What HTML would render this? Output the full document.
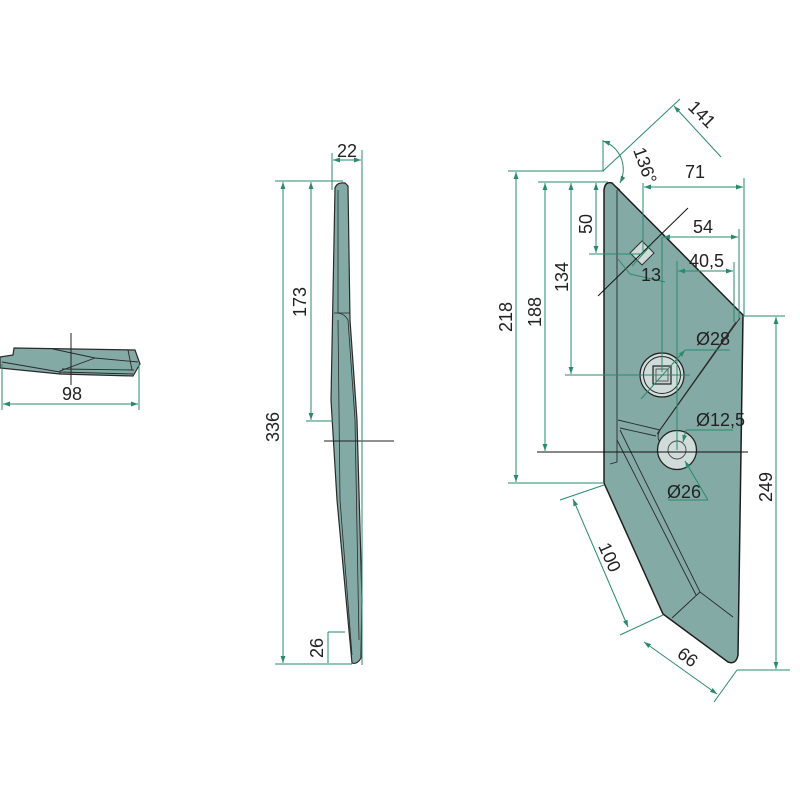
<!DOCTYPE html>
<html><head><meta charset="utf-8"><style>
html,body{margin:0;padding:0;background:#fff;}
svg{display:block;}
text{font-family:"Liberation Sans",sans-serif;font-size:18px;fill:#222;}
</style></head><body>
<svg width="800" height="800" viewBox="0 0 800 800" xmlns="http://www.w3.org/2000/svg">
<defs>
<marker id="a" viewBox="0 0 10 10" refX="10" refY="5" markerWidth="7" markerHeight="7" orient="auto-start-reverse"><path d="M0,1.5 L10,5 L0,8.5 z" fill="#2a8a6c"/></marker>
</defs>
<!-- left view -->
<g stroke="#2a2a2a" stroke-width="1.2" fill="#84aaa6">
<path d="M0,357 L13,355 L14,348 L135,350 L140,364 L133,376 L60,374 L0,368 Z"/>
</g>
<g stroke="#2a2a2a" stroke-width="0.9" fill="none">
<path d="M2,362 L60,372 L133,374"/><path d="M53,349 L95,358 L138,362"/><path d="M60,374 L60,371 L95,358"/><path d="M128,350 L132,370"/><path d="M62,369 L134,370"/>
</g>
<line x1="71" y1="333" x2="71" y2="385" stroke="#222" stroke-width="1"/>
<g stroke="#2a8a6c" stroke-width="1" fill="none">
<line x1="2" y1="364" x2="2" y2="410"/><line x1="139" y1="364" x2="139" y2="410"/>
<line x1="3" y1="404" x2="138" y2="404" marker-start="url(#a)" marker-end="url(#a)"/>
</g>
<text x="62" y="400">98</text>

<!-- side view -->
<path d="M335,188 Q337,182 345,183 L348,186 L350,320 L357,420 L362,600 L361,658 Q357,665 352,663 L348,620 L337,500 L331,400 Z" fill="#84aaa6" stroke="#2a2a2a" stroke-width="1.2"/>
<g stroke="#2a2a2a" stroke-width="0.8" fill="none">
<path d="M338,190 L338,313 Q345,314 348,320 L355,420 L359,640"/><path d="M334,313 L350,313"/><path d="M338,320 L340,500 L352,655"/>
</g>
<line x1="324" y1="441" x2="394" y2="441" stroke="#222" stroke-width="1"/>
<g stroke="#2a8a6c" stroke-width="1" fill="none">
<line x1="332" y1="153" x2="332" y2="190"/><line x1="362" y1="150" x2="362" y2="665"/>
<line x1="333" y1="160" x2="361" y2="160" marker-start="url(#a)" marker-end="url(#a)"/>
<line x1="275" y1="181" x2="343" y2="181"/><line x1="275" y1="664" x2="352" y2="664"/>
<line x1="283" y1="182" x2="283" y2="663" marker-start="url(#a)" marker-end="url(#a)"/>
<line x1="306" y1="421" x2="333" y2="421"/>
<line x1="311" y1="182" x2="311" y2="420" marker-start="url(#a)" marker-end="url(#a)"/>
<line x1="328" y1="632" x2="345" y2="632"/>
<line x1="328" y1="632" x2="328" y2="663"/>
</g>
<text x="337" y="157">22</text>
<text transform="translate(279,442) rotate(-90)">336</text>
<text transform="translate(306,317) rotate(-90)">173</text>
<text transform="translate(323,658) rotate(-90)">26</text>

<!-- main blade -->
<path d="M604,190 Q605,181 612,183 L743,315 L738,655 Q736,665 728,662 L663,614 L604,483 Z" fill="#84aaa6" stroke="#1e1e1e" stroke-width="1.5"/>
<g stroke="#2a2a2a" stroke-width="0.9" fill="none">
<path d="M617,190 L617,462 L610,464"/><path d="M613,184 L620,190"/>
<path d="M740,318 L660,430 Q655,440 663,444"/><path d="M736,322 L657,434"/>
<path d="M618,420 L660,430"/><path d="M620,428 L656,436"/>
<path d="M620,430 L700,592 L733,617"/><path d="M617,440 L696,595"/>
<path d="M700,592 L672,618"/>
</g>
<!-- holes -->
<path d="M642,241 L654,253 L642,265 L630,253 Z" fill="#cfdcd9" stroke="#333" stroke-width="1"/>
<circle cx="662" cy="375" r="22" fill="#cfdcd9" stroke="#222" stroke-width="1.2"/>
<circle cx="662" cy="375" r="18.5" fill="none" stroke="#222" stroke-width="1"/>
<rect x="653" y="366" width="18" height="18" fill="#c5d3d0" stroke="#222" stroke-width="1.2"/>
<rect x="656" y="369" width="12" height="12" fill="none" stroke="#444" stroke-width="0.8"/>
<circle cx="677" cy="450" r="19.5" fill="#cfdcd9" stroke="#222" stroke-width="1.3"/>
<circle cx="677" cy="450" r="9" fill="none" stroke="#444" stroke-width="0.9"/>
<!-- black center lines -->
<g stroke="#111" stroke-width="1">
<line x1="537" y1="452" x2="748" y2="452"/>
<line x1="688" y1="208" x2="598" y2="296"/>
</g>
<!-- green dims main -->
<g stroke="#2a8a6c" stroke-width="1" fill="none">
<line x1="508" y1="171" x2="604" y2="171"/>
<line x1="508" y1="483" x2="604" y2="483"/>
<line x1="516" y1="172" x2="516" y2="482" marker-start="url(#a)" marker-end="url(#a)"/>
<line x1="538" y1="182" x2="608" y2="182"/>
<line x1="545" y1="183" x2="545" y2="451" marker-start="url(#a)" marker-end="url(#a)"/>
<line x1="565" y1="375" x2="690" y2="375"/>
<line x1="571" y1="183" x2="571" y2="374" marker-start="url(#a)" marker-end="url(#a)"/>
<line x1="589" y1="254" x2="642" y2="254"/>
<line x1="596" y1="183" x2="596" y2="253" marker-start="url(#a)" marker-end="url(#a)"/>
<line x1="603" y1="140" x2="603" y2="171"/>
<line x1="603" y1="171" x2="680" y2="99"/>
<line x1="674" y1="106" x2="721" y2="157" marker-start="url(#a)"/>
<path d="M603,141 A30,30 0 0 1 620,183" marker-start="url(#a)" marker-end="url(#a)"/>
<line x1="643" y1="183" x2="643" y2="254"/>
<line x1="744" y1="178" x2="744" y2="316"/>
<line x1="644" y1="187" x2="743" y2="187" marker-start="url(#a)" marker-end="url(#a)"/>
<line x1="662" y1="237" x2="662" y2="372"/>
<line x1="739" y1="229" x2="739" y2="318"/>
<line x1="663" y1="237" x2="738" y2="237" marker-start="url(#a)" marker-end="url(#a)"/>
<line x1="677" y1="261" x2="677" y2="450"/>
<line x1="734" y1="262" x2="734" y2="322"/>
<line x1="678" y1="271" x2="733" y2="271" marker-start="url(#a)" marker-end="url(#a)"/>
<line x1="618" y1="259" x2="630" y2="274"/><line x1="630" y1="274" x2="665" y2="282"/>
<line x1="632" y1="266" x2="652" y2="244"/>
<line x1="641" y1="399" x2="685" y2="350" marker-end="url(#a)"/><line x1="685" y1="350" x2="730" y2="350"/>
<line x1="686" y1="430" x2="733" y2="430" /><line x1="686" y1="430" x2="683" y2="442" marker-end="url(#a)"/>
<line x1="685" y1="461" x2="708" y2="500" marker-start="url(#a)"/><line x1="668" y1="500" x2="708" y2="500"/>
<line x1="743" y1="316" x2="785" y2="316"/>
<line x1="776" y1="317" x2="776" y2="669" marker-start="url(#a)" marker-end="url(#a)"/>
<path d="M737,670 L790,670"/><path d="M737,670 L714,702"/>
<line x1="604" y1="485" x2="560" y2="500"/>
<line x1="663" y1="615" x2="620" y2="635"/>
<line x1="573" y1="499" x2="628" y2="627" marker-start="url(#a)" marker-end="url(#a)"/>
<line x1="644" y1="642" x2="717" y2="694" marker-start="url(#a)" marker-end="url(#a)"/>
</g>
<text transform="translate(512,332) rotate(-90)">218</text>
<text transform="translate(541,327) rotate(-90)">188</text>
<text transform="translate(568,292) rotate(-90)">134</text>
<text transform="translate(592,234) rotate(-90)">50</text>
<text transform="translate(687,108) rotate(45)">141</text>
<text transform="translate(633,150) rotate(70)">136°</text>
<text x="685" y="178">71</text>
<text x="693" y="233">54</text>
<text x="689" y="267">40,5</text>
<text x="641" y="281">13</text>
<text x="696" y="345">Ø28</text>
<text x="696" y="426">Ø12,5</text>
<text x="667" y="498">Ø26</text>
<text transform="translate(772,502) rotate(-90)">249</text>
<text transform="translate(598,546) rotate(66)">100</text>
<text transform="translate(676,656) rotate(37)">66</text>
</svg>
</body></html>
